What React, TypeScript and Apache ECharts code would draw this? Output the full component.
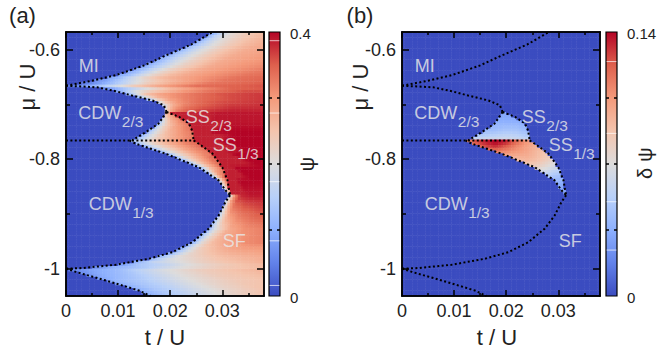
import React, { useEffect, useRef } from 'react';
import * as echarts from 'echarts';

const FONT = "'Liberation Sans', Arial, Helvetica, sans-serif";

// axes extents
const T_MIN = 0;
const T_MAX = 0.038;
const MU_MIN = -1.05;
const MU_MAX = -0.568;
const N_T = 76;
const N_MU = 96;

const xMajor = [0, 0.01, 0.02, 0.03];
const xMinor = [0.005, 0.015, 0.025, 0.035];
const yMajor = [-1, -0.8, -0.6];
const yMinor = [-0.9, -0.7];

// phase boundaries, [t/U, mu/U]
const miLower = [[0, -0.666], [0.005, -0.657], [0.0095, -0.647], [0.015, -0.629], [0.0191, -0.611], [0.024, -0.591], [0.0282, -0.568]];
const cdw23Upper = [[0, -0.666], [0.006, -0.669], [0.0095, -0.676], [0.0127, -0.684], [0.0166, -0.693], [0.0188, -0.702], [0.0193, -0.714]];
const cdw23Lower = [[0.0193, -0.714], [0.0178, -0.735], [0.0153, -0.751], [0.0127, -0.766]];
const plateau = [[0, -0.766], [0.0245, -0.766]];
const cdw13Upper = [[0.0122, -0.766], [0.0134, -0.772], [0.0191, -0.79], [0.0255, -0.815], [0.0293, -0.839], [0.0306, -0.857], [0.0315, -0.866]];
const cdw13Lower = [[0.0315, -0.866], [0.0306, -0.8785], [0.0293, -0.903], [0.0274, -0.927], [0.0242, -0.952], [0.0204, -0.97], [0.0159, -0.982], [0.0095, -0.993], [0.0031, -0.999], [0, -1.0]];
const lowerLobe = [[0, -1.0], [0.0019, -1.006], [0.0063, -1.018], [0.0102, -1.029], [0.014, -1.04], [0.0162, -1.05]];
const ss23Edge = [[0.0193, -0.714], [0.0217, -0.723], [0.0236, -0.735], [0.0242, -0.748], [0.0245, -0.766]];
const ss13Edge = [[0.0245, -0.766], [0.0255, -0.772], [0.0281, -0.79], [0.03, -0.815], [0.031, -0.839], [0.0313, -0.857], [0.0315, -0.866]];

const boundaryLines = [miLower, cdw23Upper, cdw23Lower, plateau, cdw13Upper, cdw13Lower, lowerLobe, ss23Edge, ss13Edge];

// panel (a): psi read along each mu row, as a function of the distance from the insulating lobe edge
const psiOffsets = [0, 0.001, 0.002, 0.004, 0.007, 0.01, 0.013, 0.018, 0.025, 0.04];
const psiRowsMu = [-1.05, -1.022, -1.0, -0.985, -0.97, -0.952, -0.927, -0.9, -0.866, -0.839, -0.815, -0.79, -0.772, -0.762, -0.75, -0.73, -0.716, -0.708, -0.695, -0.68, -0.668, -0.662, -0.65, -0.63, -0.6, -0.568];
const psiTable = [
  [0.1, 0.11, 0.12, 0.14, 0.16, 0.18, 0.2, 0.23, 0.26, 0.27],
  [0.08, 0.1, 0.11, 0.125, 0.14, 0.16, 0.18, 0.21, 0.24, 0.27],
  [0.04, 0.05, 0.06, 0.08, 0.1, 0.12, 0.15, 0.19, 0.23, 0.28],
  [0.1, 0.12, 0.14, 0.18, 0.2, 0.22, 0.24, 0.26, 0.28, 0.29],
  [0.1, 0.14, 0.17, 0.22, 0.25, 0.27, 0.28, 0.29, 0.3, 0.3],
  [0.1, 0.16, 0.21, 0.26, 0.29, 0.31, 0.32, 0.32, 0.32, 0.32],
  [0.12, 0.18, 0.22, 0.28, 0.31, 0.32, 0.33, 0.34, 0.34, 0.34],
  [0.15, 0.24, 0.3, 0.33, 0.35, 0.36, 0.36, 0.36, 0.36, 0.36],
  [0.18, 0.32, 0.38, 0.39, 0.39, 0.39, 0.39, 0.39, 0.39, 0.39],
  [0.14, 0.28, 0.36, 0.4, 0.4, 0.4, 0.4, 0.4, 0.4, 0.4],
  [0.1, 0.18, 0.25, 0.32, 0.4, 0.4, 0.4, 0.4, 0.4, 0.4],
  [0.1, 0.15, 0.2, 0.25, 0.31, 0.34, 0.4, 0.4, 0.4, 0.4],
  [0.1, 0.14, 0.18, 0.23, 0.28, 0.32, 0.35, 0.4, 0.4, 0.4],
  [0.1, 0.14, 0.18, 0.23, 0.28, 0.32, 0.35, 0.4, 0.4, 0.4],
  [0.1, 0.16, 0.2, 0.26, 0.31, 0.34, 0.4, 0.4, 0.4, 0.4],
  [0.14, 0.22, 0.27, 0.32, 0.36, 0.39, 0.39, 0.39, 0.39, 0.39],
  [0.25, 0.3, 0.33, 0.36, 0.38, 0.39, 0.39, 0.39, 0.39, 0.39],
  [0.2, 0.27, 0.31, 0.34, 0.36, 0.37, 0.38, 0.38, 0.38, 0.38],
  [0.14, 0.2, 0.25, 0.3, 0.33, 0.35, 0.36, 0.37, 0.38, 0.38],
  [0.1, 0.14, 0.18, 0.25, 0.29, 0.31, 0.33, 0.355, 0.37, 0.37],
  [0.03, 0.04, 0.06, 0.09, 0.14, 0.19, 0.24, 0.29, 0.34, 0.36],
  [0.03, 0.04, 0.05, 0.08, 0.13, 0.18, 0.23, 0.28, 0.33, 0.36],
  [0.08, 0.1, 0.11, 0.16, 0.22, 0.26, 0.28, 0.305, 0.335, 0.36],
  [0.09, 0.11, 0.13, 0.17, 0.22, 0.25, 0.28, 0.3, 0.32, 0.33],
  [0.1, 0.13, 0.15, 0.19, 0.23, 0.26, 0.28, 0.29, 0.3, 0.3],
  [0.09, 0.13, 0.17, 0.21, 0.24, 0.26, 0.27, 0.28, 0.28, 0.28],
];
const SS_CAP = 0.34;
const SF_FLOOR = 0.385;

// panel (b): delta psi inside the supersolid regions
const dpsiCols = [0.012, 0.014, 0.016, 0.018, 0.02, 0.022, 0.024, 0.026, 0.028, 0.03, 0.032];
const dpsiRowsMu = [-0.866, -0.845, -0.83, -0.815, -0.8, -0.785, -0.775, -0.768, -0.765, -0.758, -0.745, -0.73, -0.714];
const dpsiTable = [
  [0.03, 0.03, 0.03, 0.03, 0.03, 0.03, 0.03, 0.03, 0.03, 0.03, 0.03],
  [0.04, 0.04, 0.04, 0.04, 0.04, 0.04, 0.04, 0.04, 0.035, 0.035, 0.03],
  [0.06, 0.06, 0.06, 0.06, 0.06, 0.06, 0.06, 0.055, 0.05, 0.045, 0.04],
  [0.08, 0.08, 0.08, 0.08, 0.08, 0.08, 0.08, 0.078, 0.07, 0.06, 0.05],
  [0.09, 0.09, 0.09, 0.09, 0.09, 0.092, 0.095, 0.09, 0.082, 0.07, 0.06],
  [0.08, 0.1, 0.11, 0.115, 0.11, 0.105, 0.1, 0.092, 0.085, 0.075, 0.065],
  [0.09, 0.115, 0.13, 0.135, 0.125, 0.112, 0.102, 0.095, 0.09, 0.08, 0.07],
  [0.1, 0.125, 0.135, 0.14, 0.135, 0.12, 0.105, 0.1, 0.09, 0.08, 0.07],
  [0.055, 0.06, 0.065, 0.065, 0.065, 0.062, 0.06, 0.06, 0.06, 0.06, 0.06],
  [0.045, 0.05, 0.052, 0.055, 0.057, 0.055, 0.05, 0.05, 0.05, 0.05, 0.05],
  [0.035, 0.04, 0.04, 0.042, 0.045, 0.045, 0.04, 0.04, 0.04, 0.04, 0.04],
  [0.03, 0.03, 0.035, 0.035, 0.035, 0.035, 0.03, 0.03, 0.03, 0.03, 0.03],
  [0.03, 0.03, 0.03, 0.03, 0.03, 0.03, 0.03, 0.03, 0.03, 0.03, 0.03],
];

const coolwarm = ['#3b4cc0', '#6282ea', '#8db0fe', '#b8d0f9', '#dddcdc', '#f4c4ad', '#f49a7b', '#de604d', '#b40426'];

const phaseLabels = [
  { main: 'MI', sub: '', t: 0.00244, mu: -0.6298 },
  { main: 'CDW', sub: '2/3', t: 0.00236, mu: -0.7156 },
  { main: 'SS', sub: '2/3', t: 0.023, mu: -0.7238 },
  { main: 'SS', sub: '1/3', t: 0.02815, mu: -0.775 },
  { main: 'CDW', sub: '1/3', t: 0.00435, mu: -0.8815 },
  { main: 'SF', sub: '', t: 0.0301, mu: -0.95 },
];

const panels = [
  { tag: '(a)', gridLeft: 66, cbarX: 269, cbarMax: '0.4', cbarTitle: ['ψ'], cbarLines: [0.033, 0.307, 0.567, 0.791, 0.96], tagX: 22.5, yTitleX: 27.5, xTitleX: 165, cbarTitleX: 307, cbarLabelX: 290 },
  { tag: '(b)', gridLeft: 402, cbarX: 606, cbarMax: '0.14', cbarTitle: ['δ', 'ψ'], cbarLines: [0.112, 0.384, 0.643, 0.826], tagX: 360, yTitleX: 360.5, xTitleX: 497, cbarTitleX: 645, cbarLabelX: 627 },
];
const GRID_TOP = 32;
const GRID_W = 198;
const GRID_H = 264;
const CBAR_W = 11;

function invert(line: number[][], mu: number): number {
  for (let i = 0; i < line.length - 1; i++) {
    const [t0, m0] = line[i];
    const [t1, m1] = line[i + 1];
    const lo = Math.min(m0, m1);
    const hi = Math.max(m0, m1);
    if (mu >= lo && mu <= hi) {
      if (hi === lo) return Math.max(t0, t1);
      return t0 + ((mu - m0) / (m1 - m0)) * (t1 - t0);
    }
  }
  const first = line[0];
  const last = line[line.length - 1];
  return Math.abs(mu - first[1]) < Math.abs(mu - last[1]) ? first[0] : last[0];
}

function leftBoundary(mu: number): number {
  if (mu >= miLower[0][1]) return invert(miLower, mu);
  if (mu >= cdw23Lower[0][1]) return invert(cdw23Upper, mu);
  if (mu >= plateau[0][1]) return invert(cdw23Lower, mu);
  if (mu >= cdw13Lower[0][1]) return invert(cdw13Upper, mu);
  if (mu >= lowerLobe[0][1]) return invert(cdw13Lower, mu);
  return invert(lowerLobe, mu);
}

function interp1(xs: number[], ys: number[], x: number): number {
  const n = xs.length;
  if (x <= xs[0]) return ys[0];
  if (x >= xs[n - 1]) return ys[n - 1];
  for (let i = 0; i < n - 1; i++) {
    if (x >= xs[i] && x <= xs[i + 1]) {
      const f = (x - xs[i]) / (xs[i + 1] - xs[i]);
      return ys[i] + f * (ys[i + 1] - ys[i]);
    }
  }
  return ys[n - 1];
}

function lookup(rows: number[], cols: number[], tbl: number[][], r: number, c: number): number {
  const n = rows.length;
  if (r <= rows[0]) return interp1(cols, tbl[0], c);
  if (r >= rows[n - 1]) return interp1(cols, tbl[n - 1], c);
  for (let i = 0; i < n - 1; i++) {
    if (r >= rows[i] && r <= rows[i + 1]) {
      const f = (r - rows[i]) / (rows[i + 1] - rows[i]);
      const a = interp1(cols, tbl[i], c);
      const b = interp1(cols, tbl[i + 1], c);
      return a + f * (b - a);
    }
  }
  return 0;
}

// which supersolid region a point belongs to (0 none, 23, 13)
function ssRegion(t: number, mu: number): number {
  const tb = leftBoundary(mu);
  if (t < tb) return 0;
  if (mu <= ss23Edge[0][1] && mu >= plateau[0][1]) {
    return t < invert(ss23Edge, mu) ? 23 : 0;
  }
  if (mu < plateau[0][1] && mu >= cdw13Lower[0][1]) {
    return t < invert(ss13Edge, mu) ? 13 : 0;
  }
  return 0;
}

function buildData() {
  const dt = (T_MAX - T_MIN) / N_T;
  const dmu = (MU_MAX - MU_MIN) / N_MU;
  const a: number[][] = [];
  const b: number[][] = [];
  for (let j = 0; j < N_MU; j++) {
    const mu = MU_MIN + (j + 0.5) * dmu;
    const tb = leftBoundary(mu);
    for (let i = 0; i < N_T; i++) {
      const t = T_MIN + (i + 0.5) * dt;
      let va = 0;
      let vb = 0;
      if (t >= tb) {
        va = lookup(psiRowsMu, psiOffsets, psiTable, mu, t - tb);
        const inBand = mu <= ss23Edge[0][1] && mu >= cdw13Lower[0][1];
        const reg = ssRegion(t, mu);
        if (inBand) {
          if (reg) va = Math.min(va, SS_CAP);
          else va = Math.max(va, SF_FLOOR);
        }
        if (reg === 23) vb = lookup(dpsiRowsMu, dpsiCols, dpsiTable, Math.max(mu, -0.765), t);
        if (reg === 13) vb = lookup(dpsiRowsMu, dpsiCols, dpsiTable, Math.min(mu, -0.768), t);
      }
      a.push([i, j, +va.toFixed(4)]);
      b.push([i, j, +vb.toFixed(4)]);
    }
  }
  return [a, b];
}

let measureCtx: CanvasRenderingContext2D | null = null;
function textWidth(s: string, size: number): number {
  if (!measureCtx) measureCtx = document.createElement('canvas').getContext('2d');
  if (!measureCtx) return s.length * size * 0.6;
  measureCtx.font = `${size}px ${FONT}`;
  return measureCtx.measureText(s).width;
}

function px(p: number, t: number) {
  return panels[p].gridLeft + ((t - T_MIN) / (T_MAX - T_MIN)) * GRID_W;
}
function py(mu: number) {
  return GRID_TOP + ((MU_MAX - mu) / (MU_MAX - MU_MIN)) * GRID_H;
}

function buildOption() {
  const [dataA, dataB] = buildData();
  const tCats = Array.from({ length: N_T }, (_, i) => String(i));
  const muCats = Array.from({ length: N_MU }, (_, i) => String(i));
  const tickStyle = { color: '#000', width: 1.5 };
  const labelStyle = { fontSize: 18, color: '#222', fontFamily: FONT };

  const grid: any[] = [];
  const xAxis: any[] = [];
  const yAxis: any[] = [];
  const series: any[] = [];
  const graphic: any[] = [];

  const valueX = (gi: number, position: string, ticks: number[], len: number, labels: boolean) => ({
    type: 'value', gridIndex: gi, min: T_MIN, max: T_MAX, position, z: 10,
    axisLine: { show: true, onZero: false, lineStyle: tickStyle },
    axisTick: { show: true, inside: true, length: len, lineStyle: tickStyle, customValues: ticks },
    axisLabel: labels ? { show: true, customValues: ticks, margin: 6, formatter: (v: number) => String(v), ...labelStyle } : { show: false },
    splitLine: { show: false },
  });
  const valueY = (gi: number, position: string, ticks: number[], len: number, labels: boolean) => ({
    type: 'value', gridIndex: gi, min: MU_MIN, max: MU_MAX, position, z: 10,
    axisLine: { show: true, onZero: false, lineStyle: tickStyle },
    axisTick: { show: true, inside: true, length: len, lineStyle: tickStyle, customValues: ticks },
    axisLabel: labels ? { show: true, customValues: ticks, margin: 6, formatter: (v: number) => String(v), ...labelStyle } : { show: false },
    splitLine: { show: false },
  });

  panels.forEach((p, gi) => {
    grid.push({ left: p.gridLeft, top: GRID_TOP, width: GRID_W, height: GRID_H });
    xAxis.push({ type: 'category', gridIndex: gi, data: tCats, show: false });
    xAxis.push(valueX(gi, 'bottom', xMajor, 6, true));
    xAxis.push(valueX(gi, 'bottom', xMinor, 3, false));
    xAxis.push(valueX(gi, 'top', xMajor, 6, false));
    xAxis.push(valueX(gi, 'top', xMinor, 3, false));
    yAxis.push({ type: 'category', gridIndex: gi, data: muCats, show: false });
    yAxis.push(valueY(gi, 'left', yMajor, 7, true));
    yAxis.push(valueY(gi, 'left', yMinor, 4, false));
    yAxis.push(valueY(gi, 'right', yMajor, 7, false));
    yAxis.push(valueY(gi, 'right', yMinor, 4, false));
  });

  series.push({ type: 'heatmap', xAxisIndex: 0, yAxisIndex: 0, data: dataA, progressive: 0, itemStyle: { borderWidth: 0 }, emphasis: { disabled: true }, silent: true, z: 1 });
  series.push({ type: 'heatmap', xAxisIndex: 5, yAxisIndex: 5, data: dataB, progressive: 0, itemStyle: { borderWidth: 0 }, emphasis: { disabled: true }, silent: true, z: 1 });

  const stops = coolwarm.slice().reverse().map((c, k, arr) => ({ offset: k / (arr.length - 1), color: c }));

  panels.forEach((p, gi) => {
    boundaryLines.forEach((line) => {
      series.push({
        type: 'line', xAxisIndex: gi * 5 + 1, yAxisIndex: gi * 5 + 1, data: line,
        symbol: 'none', silent: true, z: 5, animation: false,
        lineStyle: { color: '#000', width: 2, type: [2, 2.4], cap: 'butt' },
      });
    });

    // colorbar
    graphic.push({
      type: 'rect', z: 20,
      shape: { x: p.cbarX, y: GRID_TOP, width: CBAR_W, height: GRID_H },
      style: { fill: new echarts.graphic.LinearGradient(0, 0, 0, 1, stops), stroke: '#000', lineWidth: 1.2 },
    });
    p.cbarLines.forEach((f) => {
      graphic.push({ type: 'line', z: 21, shape: { x1: p.cbarX + 0.6, y1: GRID_TOP + f * GRID_H, x2: p.cbarX + CBAR_W - 0.6, y2: GRID_TOP + f * GRID_H }, style: { stroke: 'rgba(255,255,255,0.7)', lineWidth: 1 } });
    });
    [0.25, 0.5, 0.75].forEach((f) => {
      const y = GRID_TOP + f * GRID_H;
      graphic.push({ type: 'line', z: 22, shape: { x1: p.cbarX, y1: y, x2: p.cbarX + 3, y2: y }, style: { stroke: '#000', lineWidth: 1.5 } });
      graphic.push({ type: 'line', z: 22, shape: { x1: p.cbarX + CBAR_W - 3, y1: y, x2: p.cbarX + CBAR_W, y2: y }, style: { stroke: '#000', lineWidth: 1.5 } });
    });
    graphic.push({ type: 'text', z: 22, x: p.cbarLabelX, y: GRID_TOP + 1, style: { text: p.cbarMax, fontSize: 15, fontFamily: FONT, fill: '#222', align: 'left', verticalAlign: 'middle' } });
    graphic.push({ type: 'text', z: 22, x: p.cbarLabelX, y: GRID_TOP + GRID_H + 1, style: { text: '0', fontSize: 15, fontFamily: FONT, fill: '#222', align: 'left', verticalAlign: 'middle' } });
    // colorbar title, read bottom to top, one glyph per element
    const n = p.cbarTitle.length;
    p.cbarTitle.forEach((g, k) => {
      const y = 164 + ((n - 1) / 2 - k) * 19;
      graphic.push({ type: 'text', z: 22, x: p.cbarTitleX, y, rotation: Math.PI / 2, style: { text: g, fontSize: 20, fontFamily: FONT, fill: '#222', align: 'center', verticalAlign: 'middle' } });
    });

    // titles
    graphic.push({ type: 'text', z: 22, x: p.tagX, y: 15, style: { text: p.tag, fontSize: 22, fontFamily: FONT, fill: '#222', align: 'center', verticalAlign: 'middle' } });
    graphic.push({ type: 'text', z: 22, x: p.yTitleX, y: 87, rotation: Math.PI / 2, style: { text: 'μ / U', fontSize: 22, fontFamily: FONT, fill: '#222', align: 'center', verticalAlign: 'middle' } });
    graphic.push({ type: 'text', z: 22, x: p.xTitleX, y: 337.5, style: { text: 't / U', fontSize: 22, fontFamily: FONT, fill: '#222', align: 'center', verticalAlign: 'middle' } });

    // phase labels
    phaseLabels.forEach((l) => {
      const x = px(gi, l.t);
      const y = py(l.mu);
      const col = 'rgba(232,232,232,0.82)';
      graphic.push({ type: 'text', z: 23, x, y, style: { text: l.main, fontSize: 18, fontFamily: FONT, fill: col, align: 'left', verticalAlign: 'middle' } });
      if (l.sub) {
        graphic.push({ type: 'text', z: 23, x: x + textWidth(l.main, 18) + 0.5, y: y + 8.5, style: { text: l.sub, fontSize: 15.5, fontFamily: FONT, fill: col, align: 'left', verticalAlign: 'middle' } });
      }
    });
  });

  return {
    animation: false,
    backgroundColor: '#fff',
    grid,
    xAxis,
    yAxis,
    visualMap: [
      { show: false, type: 'continuous', seriesIndex: 0, min: 0, max: 0.4, inRange: { color: coolwarm } },
      { show: false, type: 'continuous', seriesIndex: 1, min: 0, max: 0.14, inRange: { color: coolwarm } },
    ],
    series,
    graphic,
  };
}

export default function App() {
  const ref = useRef<HTMLDivElement>(null);
  useEffect(() => {
    if (!ref.current) return;
    const chart = echarts.init(ref.current, null, { renderer: 'svg' });
    chart.setOption(buildOption() as any);
    return () => chart.dispose();
  }, []);
  return <div ref={ref} style={{ position: 'absolute', left: 0, top: 0, width: 657, height: 356 }} />;
}
